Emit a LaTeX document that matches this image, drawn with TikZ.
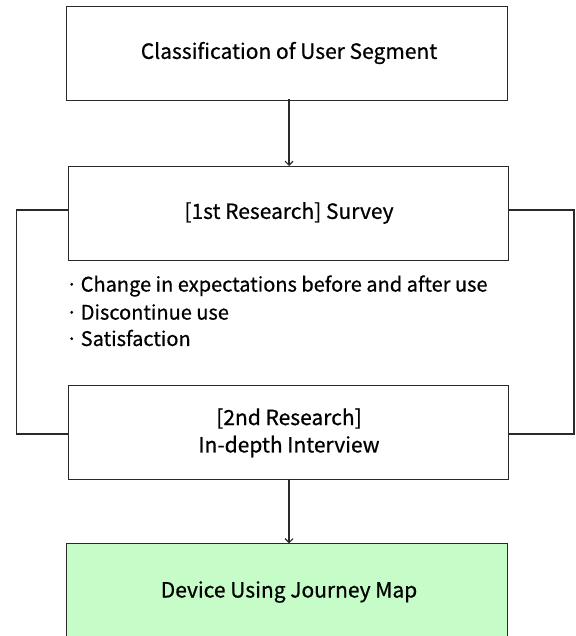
\documentclass[tikz,border=0pt]{standalone}
\usepackage{fontspec}
\setmainfont{Noto Sans CJK KR}[FakeBold=0.6]
\usetikzlibrary{arrows.meta}
\definecolor{boxgreen}{HTML}{C6FCC8}
\definecolor{linegray}{HTML}{2A2A2A}
\tikzset{
  flowbox/.style={draw=linegray, line width=1.1pt, fill=white},
  greenbox/.style={flowbox, fill=boxgreen},
  lbl/.style={font=\fontsize{21}{25}\selectfont, text=black, inner sep=0pt},
  blbl/.style={font=\fontsize{20}{24}\selectfont, text=black, inner sep=0pt},
  flowarrow/.style={draw=linegray, line width=1.1pt, -{Straight Barb[length=4pt,width=8pt]}},
  loopline/.style={draw=linegray, line width=1.1pt}
}
\begin{document}
\begin{tikzpicture}[x=1pt,y=-1pt]
\useasboundingbox (0,0) rectangle (575,636);
\begin{scope}
\clip (0,0) rectangle (575,636);
% loop lines behind boxes
\coordinate (lt) at (16.5,210);
\coordinate (lb) at (16.5,434);
\coordinate (rt) at (574,210);
\coordinate (rb) at (574,434);
\node[flowbox, minimum width=441pt, minimum height=94pt, anchor=north west, inner sep=0pt] (b1) at (66,5.7) {};
\node[flowbox, minimum width=440.5pt, minimum height=93.5pt, anchor=north west, inner sep=0pt] (b2) at (67.5,166) {};
\node[flowbox, minimum width=440.5pt, minimum height=94pt, anchor=north west, inner sep=0pt] (b3) at (67.5,385) {};
\node[greenbox, minimum width=441pt, minimum height=98pt, anchor=north west, inner sep=0pt] (b4) at (66,543.3) {};
\draw[loopline] (b2.west |- lt) -- (lt) -- (lb) -- (b3.west |- lb);
\draw[loopline] (b2.east |- rt) -- (rt) -- (rb) -- (b3.east |- rb);
\end{scope}
\node[lbl] (t1) at (289,53) {Classification of User Segment};
\node[lbl] (t2) at (289,213) {[1st Research] Survey};
\node[blbl, anchor=west] (c1) at (66,286) {·\,Change in expectations before and after use};
\node[blbl, anchor=west] (c2) at (66,312) {·\,Discontinue use};
\node[blbl, anchor=west] (c3) at (66,338) {·\,Satisfaction};
\node[lbl] (t3a) at (289,418.5) {[2nd Research]};
\node[lbl] (t3b) at (289,446.5) {In-depth Interview};
\node[lbl] (t4) at (289,592) {Device Using Journey Map};
\coordinate (a1s) at (289,99.3);
\coordinate (a2s) at (289,478.7);
\draw[flowarrow] (a1s) -- (a1s |- b2.north);
\draw[flowarrow] (a2s) -- (a2s |- b4.north);
\end{tikzpicture}
\end{document}
